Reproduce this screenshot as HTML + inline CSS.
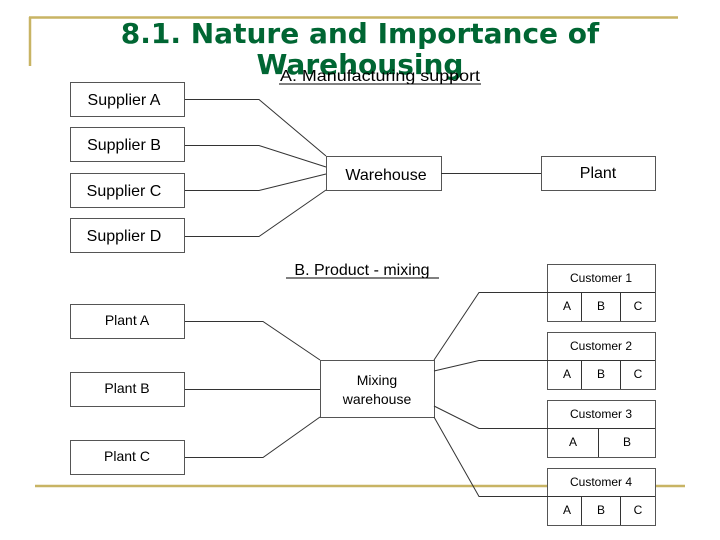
<!DOCTYPE html>
<html><head><meta charset="utf-8"><style>
body{margin:0;background:#fff}
svg{display:block}
.t{font-family:"Liberation Sans",Arial,sans-serif;fill:#000}
</style></head><body>
<svg width="720" height="540" viewBox="0 0 720 540" xmlns="http://www.w3.org/2000/svg">
<g stroke="#c8b464" stroke-width="2.5" fill="none">
<line x1="29" y1="17.5" x2="678" y2="17.5"/>
<line x1="30" y1="17" x2="30" y2="66"/>
<line x1="35" y1="486" x2="685" y2="486"/>
</g>
<g font-family="'DejaVu Sans',sans-serif" font-weight="bold" font-size="28" fill="#006633" text-anchor="middle">
<text x="360" y="43">8.1. Nature and Importance of</text>
<text x="360" y="74">Warehousing</text>
</g>
<g class="t" font-size="16" text-anchor="middle">
<text x="380" y="81" textLength="200" lengthAdjust="spacingAndGlyphs">A. Manufacturing support</text>
<text x="362" y="275">B. Product - mixing</text>
</g>
<g stroke="#000" stroke-width="1">
<line x1="279" y1="84" x2="481" y2="84"/>
<line x1="286" y1="278" x2="439" y2="278"/>
</g>
<g fill="#fff" stroke="#555" stroke-width="1">
<rect x="70.5" y="82.5" width="114" height="34"/>
<rect x="70.5" y="127.5" width="114" height="34"/>
<rect x="70.5" y="173.5" width="114" height="34"/>
<rect x="70.5" y="218.5" width="114" height="34"/>
<rect x="326.5" y="156.5" width="115" height="34"/>
<rect x="541.5" y="156.5" width="114" height="34"/>
<rect x="70.5" y="304.5" width="114" height="34"/>
<rect x="70.5" y="372.5" width="114" height="34"/>
<rect x="70.5" y="440.5" width="114" height="34"/>
<rect x="320.5" y="360.5" width="114" height="57"/>
<rect x="547.5" y="264.5" width="108" height="57"/>
<rect x="547.5" y="332.5" width="108" height="57"/>
<rect x="547.5" y="400.5" width="108" height="57"/>
<rect x="547.5" y="468.5" width="108" height="57"/>
</g>
<g stroke="#333" stroke-width="1" fill="none">
<polyline points="185,99.5 259,99.5 326,156"/>
<polyline points="185,145.5 259,145.5 326,167"/>
<polyline points="185,190.5 259,190.5 326,174"/>
<polyline points="185,236.5 259,236.5 326,190"/>
<line x1="441" y1="173.5" x2="541" y2="173.5"/>
<polyline points="185,321.5 263,321.5 320,360"/>
<line x1="185" y1="389.5" x2="320" y2="389.5"/>
<polyline points="185,457.5 263,457.5 320,417"/>
<polyline points="434,360 479,292.5 547,292.5"/>
<polyline points="434,371 479,360.5 547,360.5"/>
<polyline points="434,406 479,428.5 547,428.5"/>
<polyline points="434,417 479,496.5 547,496.5"/>
<line x1="547" y1="292.5" x2="655" y2="292.5"/>
<line x1="547" y1="360.5" x2="655" y2="360.5"/>
<line x1="547" y1="428.5" x2="655" y2="428.5"/>
<line x1="547" y1="496.5" x2="655" y2="496.5"/>
<line x1="581.5" y1="292" x2="581.5" y2="321"/>
<line x1="620.5" y1="292" x2="620.5" y2="321"/>
<line x1="581.5" y1="360" x2="581.5" y2="389"/>
<line x1="620.5" y1="360" x2="620.5" y2="389"/>
<line x1="598.5" y1="428" x2="598.5" y2="457"/>
<line x1="581.5" y1="496" x2="581.5" y2="525"/>
<line x1="620.5" y1="496" x2="620.5" y2="525"/>
</g>
<g class="t" font-size="16" text-anchor="middle">
<text x="124" y="105">Supplier A</text>
<text x="124" y="150">Supplier B</text>
<text x="124" y="196">Supplier C</text>
<text x="124" y="241">Supplier D</text>
<text x="386" y="180">Warehouse</text>
<text x="598" y="178">Plant</text>
</g>
<g class="t" font-size="14" text-anchor="middle">
<text x="127" y="325">Plant A</text>
<text x="127" y="393">Plant B</text>
<text x="127" y="461">Plant C</text>
<text x="377" y="385">Mixing</text>
<text x="377" y="404">warehouse</text>
</g>
<g class="t" font-size="12" text-anchor="middle">
<text x="601" y="282">Customer 1</text>
<text x="567" y="310">A</text><text x="601" y="310">B</text><text x="638" y="310">C</text>
<text x="601" y="350">Customer 2</text>
<text x="567" y="378">A</text><text x="601" y="378">B</text><text x="638" y="378">C</text>
<text x="601" y="418">Customer 3</text>
<text x="573" y="446">A</text><text x="627" y="446">B</text>
<text x="601" y="486">Customer 4</text>
<text x="567" y="514">A</text><text x="601" y="514">B</text><text x="638" y="514">C</text>
</g>
</svg>
</body></html>
